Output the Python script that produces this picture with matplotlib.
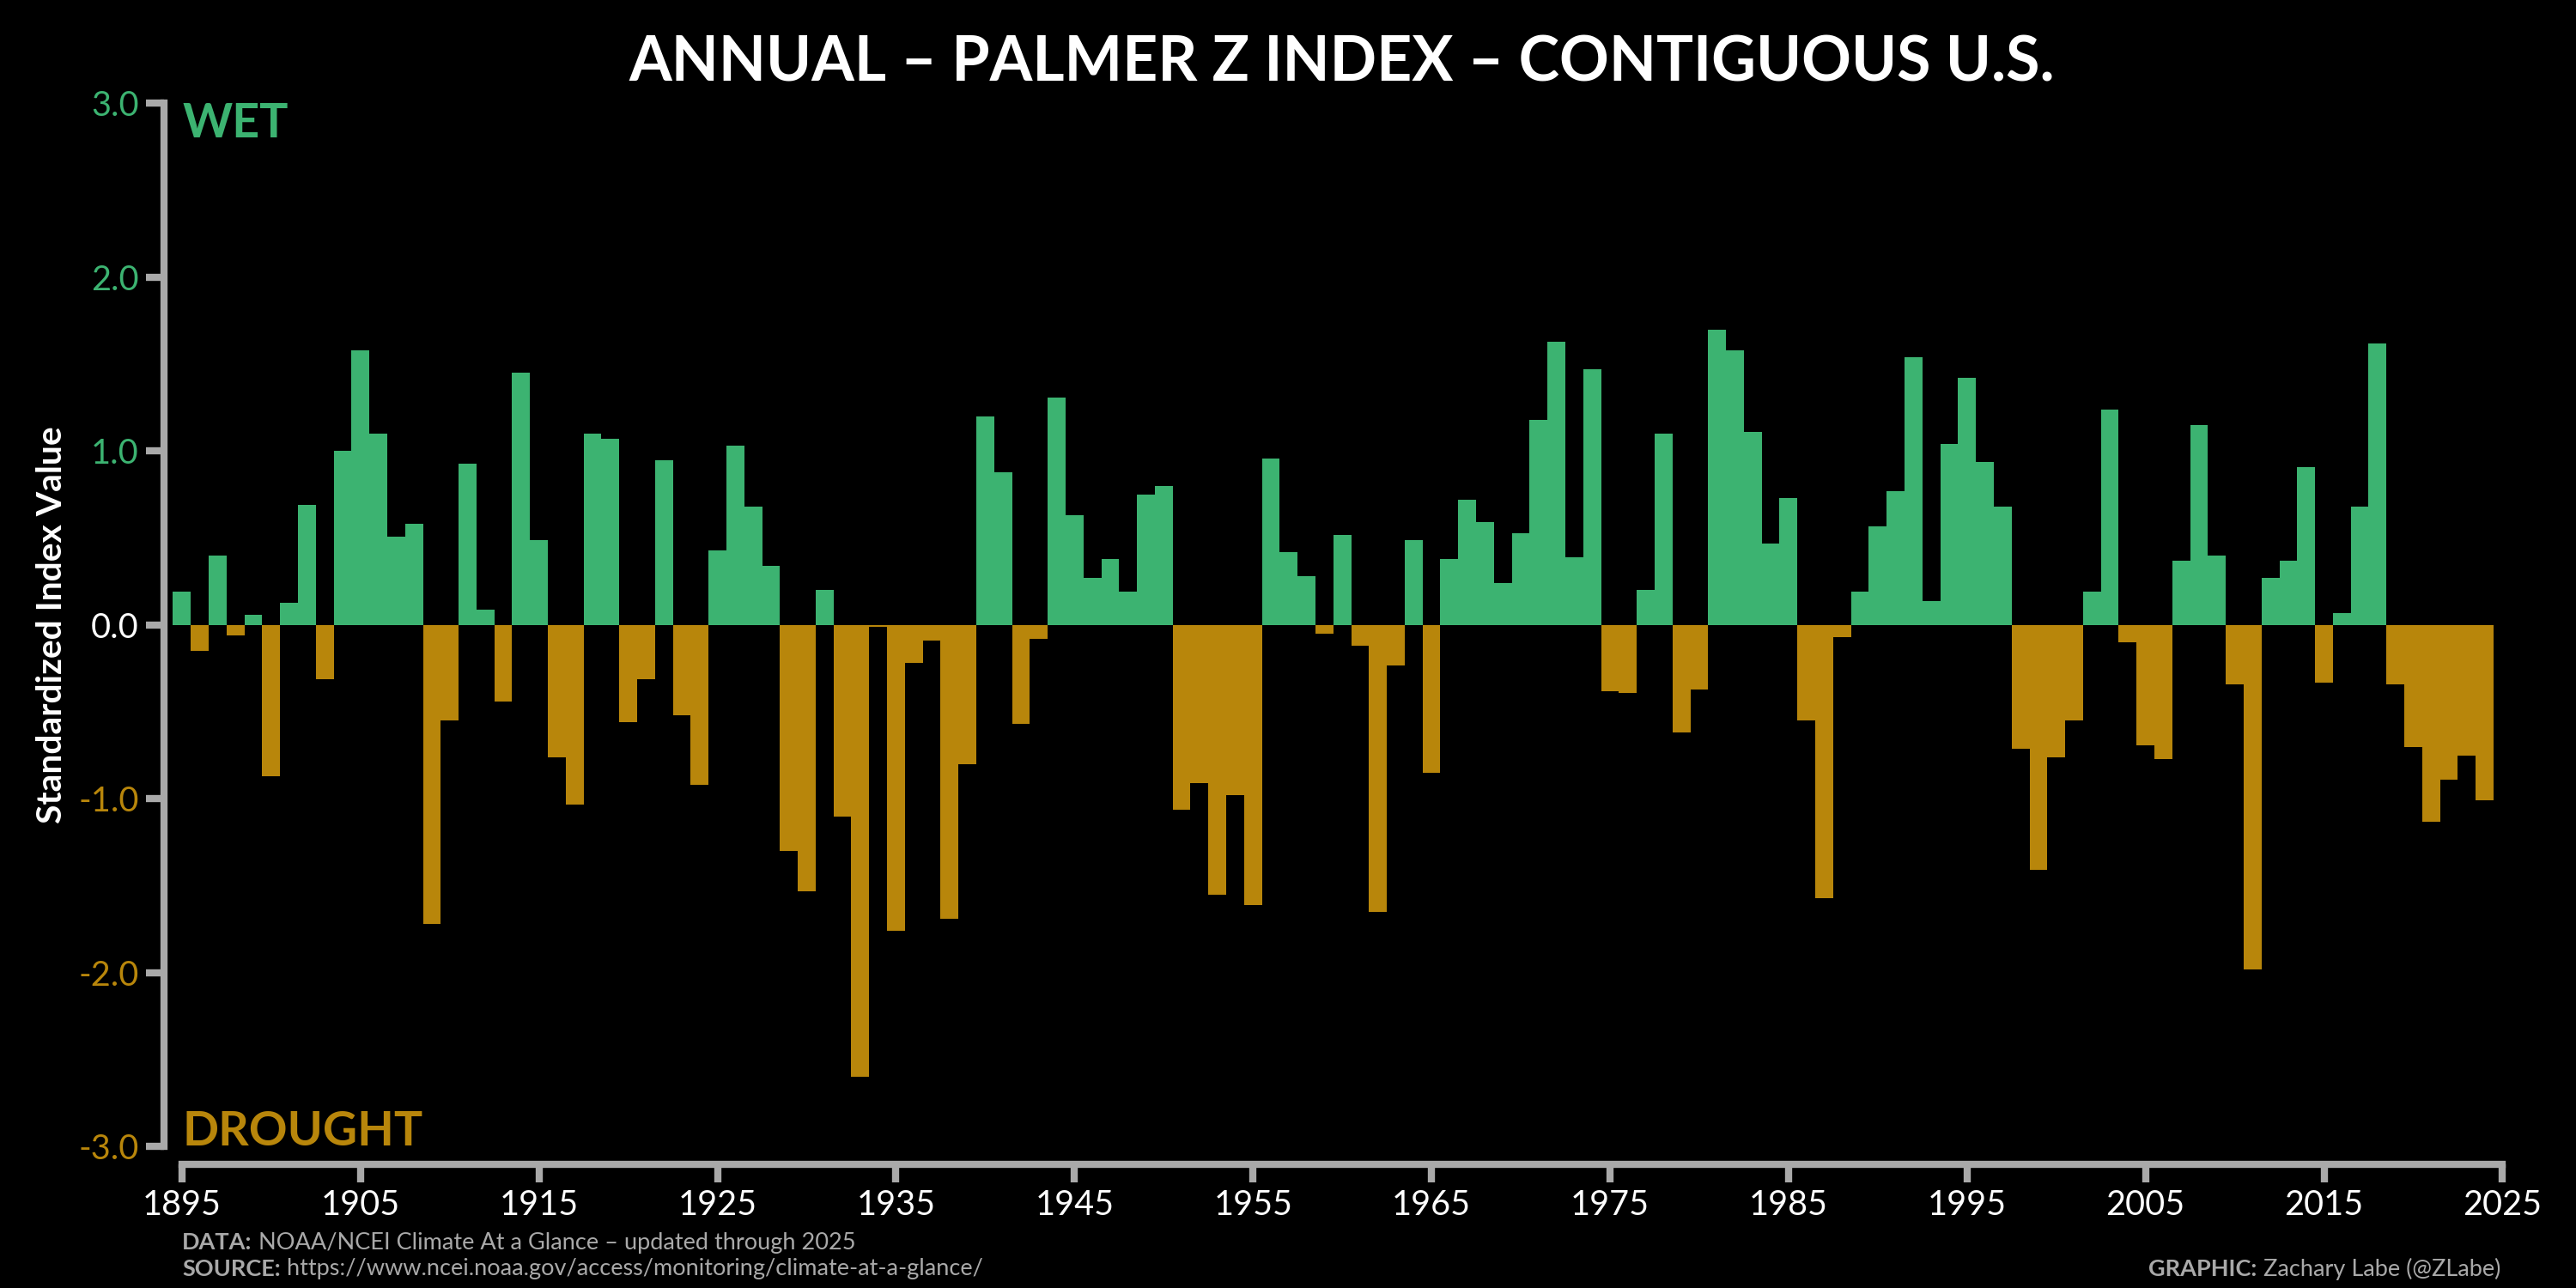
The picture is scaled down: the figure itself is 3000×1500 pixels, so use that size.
"""Annual Palmer Z index, contiguous U.S. - bar chart on black background"""

import numpy as np
import matplotlib.pyplot as plt

plt.rcParams['font.family'] = ['Lato', 'DejaVu Sans']

# data (read from the graphic)
years = np.arange(1895, 2025)
zindex = [
    0.19, -0.15, 0.40, -0.06, 0.06, -0.87, 0.13, 0.69, -0.31, 1.00,
    1.58, 1.10, 0.51, 0.58, -1.72, -0.55, 0.93, 0.09, -0.44, 1.45,
    0.49, -0.76, -1.03, 1.10, 1.07, -0.56, -0.31, 0.95, -0.52, -0.92,
    0.43, 1.03, 0.68, 0.34, -1.30, -1.53, 0.20, -1.10, -2.60, -0.01,
    -1.76, -0.22, -0.09, -1.69, -0.80, 1.20, 0.88, -0.57, -0.08, 1.31,
    0.63, 0.27, 0.38, 0.19, 0.75, 0.80, -1.06, -0.91, -1.55, -0.98,
    -1.61, 0.96, 0.42, 0.28, -0.05, 0.52, -0.12, -1.65, -0.23, 0.49,
    -0.85, 0.38, 0.72, 0.59, 0.24, 0.53, 1.18, 1.63, 0.39, 1.47,
    -0.38, -0.39, 0.20, 1.10, -0.62, -0.37, 1.70, 1.58, 1.11, 0.47,
    0.73, -0.55, -1.57, -0.07, 0.19, 0.57, 0.77, 1.54, 0.14, 1.04,
    1.42, 0.94, 0.68, -0.71, -1.41, -0.76, -0.55, 0.19, 1.24, -0.10,
    -0.69, -0.77, 0.37, 1.15, 0.40, -0.34, -1.98, 0.27, 0.37, 0.91,
    -0.33, 0.07, 0.68, 1.62, -0.34, -0.70, -1.13, -0.89, -0.75, -1.01,
]
xticks = np.arange(1895, 2026, 10)
yticks = [-3, -2, -1, 0, 1, 2, 3]

WET = '#3CB371'
DRY = '#B8860B'
SPINE = '#A9A9A9'

def main():
    vals = np.array(zindex)
    colors = np.where(vals > 0, WET, DRY)

    fig = plt.figure(figsize=(10, 5), dpi=300, facecolor='black')
    ax = fig.add_axes([0.0637, 0.1097, 0.9147, 0.81])
    ax.set_facecolor('black')

    ax.bar(years, vals, width=1.0, color=colors, linewidth=0)

    ax.set_xlim(1894, 2026)
    ax.set_ylim(-3, 3)

    # spines
    for s in ['top', 'right']:
        ax.spines[s].set_visible(False)
    for s in ['left', 'bottom']:
        ax.spines[s].set_color(SPINE)
        ax.spines[s].set_linewidth(2)
    ax.spines['bottom'].set_position(('outward', 5))
    ax.spines['bottom'].set_bounds(1895, 2025)
    ax.spines['left'].set_bounds(-3, 3)

    ax.set_xticks(xticks)
    ax.set_xticklabels([str(x) for x in xticks])
    ax.set_yticks(yticks)
    ax.set_yticklabels([f'{y:.1f}' for y in yticks])
    ax.tick_params(axis='both', direction='out', length=5, width=2,
                   color=SPINE, pad=2, labelsize=9.5)
    ax.tick_params(axis='x', labelcolor='white')
    for lab, y in zip(ax.get_yticklabels(), yticks):
        lab.set_color(WET if y > 0 else ('white' if y == 0 else DRY))

    # labels / annotations
    fig.text(0.521, 0.9373, 'ANNUAL – PALMER Z INDEX – CONTIGUOUS U.S.',
             color='white', fontsize=17.2, fontweight='bold',
             ha='center', va='baseline')
    fig.text(0.071, 0.8933, 'WET', color=WET, fontsize=13.3, fontweight='bold',
             ha='left', va='baseline')
    fig.text(0.0707, 0.1107, 'DROUGHT', color=DRY, fontsize=13.3,
             fontweight='bold', ha='left', va='baseline')
    fig.text(0.0203, 0.515, 'Standardized Index Value', color='white',
             fontsize=9.8, fontweight='bold', rotation=90,
             ha='center', va='center')

    # footer
    fs = 6.5
    t1 = fig.text(0.0707, 0.0353, 'DATA:', color=SPINE, fontsize=fs,
                  fontweight='bold', ha='left', va='center')
    ax.annotate(' NOAA/NCEI Climate At a Glance – updated through 2025',
                xy=(1, 0.5), xycoords=t1, color=SPINE, fontsize=fs,
                ha='left', va='center')
    t2 = fig.text(0.0707, 0.0147, 'SOURCE:', color=SPINE, fontsize=fs,
                  fontweight='bold', ha='left', va='center')
    ax.annotate(' https://www.ncei.noaa.gov/access/monitoring/climate-at-a-glance/',
                xy=(1, 0.5), xycoords=t2, color=SPINE, fontsize=fs,
                ha='left', va='center')
    t3 = fig.text(0.9707, 0.0147, ' Zachary Labe (@ZLabe)', color=SPINE,
                  fontsize=fs, ha='right', va='center')
    ax.annotate('GRAPHIC:', xy=(0, 0.5), xycoords=t3, color=SPINE,
                fontsize=fs, fontweight='bold', ha='right', va='center')

    plt.savefig('out.png', dpi=300, facecolor='black')

if __name__ == "__main__":
    main()
